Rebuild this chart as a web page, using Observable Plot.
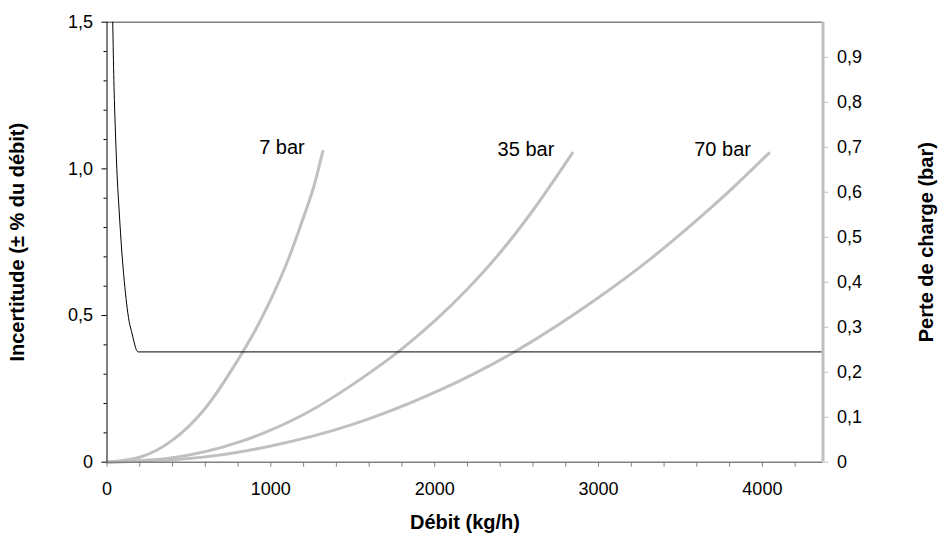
<!DOCTYPE html>
<html><head><meta charset="utf-8">
<script src="https://cdn.jsdelivr.net/npm/d3@7"></script>
<script src="https://cdn.jsdelivr.net/npm/@observablehq/plot@0.6"></script>
<style>body{margin:0;background:#fff}svg{display:block}</style>
</head><body><div id="chart"></div>
<script>
// Uncertainty curve (left axis, ± % of flow)
const flowUnc = [35, 42, 50, 60, 75, 90, 105, 120, 135, 150, 165, 178, 190, 4370];
const uncValues = [1.5, 1.3, 1.15, 1.0, 0.85, 0.72, 0.62, 0.54, 0.48, 0.445, 0.41, 0.385, 0.376, 0.376];

// Pressure-drop curves (right axis, bar)
const seriesNames = ["7 bar", "35 bar", "70 bar"];
const flow7 = [0, 200, 400, 600, 800, 900, 1000, 1100, 1200, 1260, 1317];
const dp7 = [0, 0.011, 0.049, 0.12, 0.228, 0.29, 0.362, 0.445, 0.545, 0.61, 0.691];
const flow35 = [0, 400, 800, 1200, 1600, 1800, 2000, 2200, 2400, 2600, 2840];
const dp35 = [0, 0.01, 0.044, 0.106, 0.198, 0.252, 0.314, 0.385, 0.466, 0.56, 0.687];
const flow70 = [0, 500, 1000, 1500, 2000, 2500, 3000, 3300, 3600, 3800, 4040];
const dp70 = [0, 0.008, 0.036, 0.084, 0.155, 0.248, 0.366, 0.447, 0.538, 0.603, 0.687];

// Axes
const xMax = 4370;
const xMajorTicks = [0, 1000, 2000, 3000, 4000];
const xMinorTicks = [200, 400, 600, 800, 1200, 1400, 1600, 1800, 2200, 2400, 2600, 2800, 3200, 3400, 3600, 3800, 4200];
const yLeftMax = 1.5;
const yLeftTicks = [0, 0.5, 1.0, 1.5];
const yLeftMinor = [0.1, 0.2, 0.3, 0.4, 0.6, 0.7, 0.8, 0.9, 1.1, 1.2, 1.3, 1.4];
const yRightMax = 0.978;
const yRightTicks = [0, 0.1, 0.2, 0.3, 0.4, 0.5, 0.6, 0.7, 0.8, 0.9];

const titleX = "Débit (kg/h)";
const titleYLeft = "Incertitude (± % du débit)";
const titleYRight = "Perte de charge (bar)";

const k = yLeftMax / yRightMax; // right-axis value -> left-axis scale
const fmt = v => v === 0 ? "0" : v.toFixed(1).replace(".", ",");

const dpRows = [];
[[flow7, dp7], [flow35, dp35], [flow70, dp70]].forEach(([f, p], i) => {
  f.forEach((x, j) => dpRows.push({series: seriesNames[i], flow: x, y: p[j] * k}));
});
const endRows = seriesNames.map(s => {
  const r = dpRows.filter(d => d.series === s);
  return r[r.length - 1];
});
const uncRows = flowUnc.map((x, i) => ({flow: x, y: uncValues[i]}));

const chart = Plot.plot({
  width: 938,
  height: 534,
  marginLeft: 106.5,
  marginRight: 115.5,
  marginTop: 21.7,
  marginBottom: 72.3,
  style: {fontFamily: "'Liberation Sans', Arial, sans-serif", fontSize: "18px", color: "#000", background: "#fff"},
  x: {domain: [0, xMax], axis: null},
  y: {domain: [0, yLeftMax], axis: null},
  marks: [
    Plot.ruleY([yLeftMax], {stroke: "#808080", strokeWidth: 1.5}),
    Plot.line(dpRows, {x: "flow", y: "y", z: "series", stroke: "#c0c0c0", strokeWidth: 3, curve: "monotone-x"}),
    Plot.line(uncRows, {x: "flow", y: "y", stroke: "#000", strokeWidth: 1, curve: "monotone-x"}),
    Plot.text(endRows, {x: "flow", y: "y", text: "series", textAnchor: "end", dx: -18, dy: -4, fontSize: 20, fill: "#000"}),
    Plot.ruleY([0], {stroke: "#808080", strokeWidth: 1.5}),
    Plot.ruleX([0], {stroke: "#000", strokeWidth: 1}),
    Plot.ruleX([xMax], {stroke: "#c0c0c0", strokeWidth: 3}),
    // x axis
    Plot.axisX({ticks: xMajorTicks.concat(xMinorTicks), tickSize: 5, tickFormat: () => "", stroke: "#808080", label: null}),
    Plot.axisX({ticks: xMajorTicks, tickSize: 0, tickPadding: 20, tickFormat: d => String(d), fill: "#000", label: null}),
    // left y axis
    Plot.axisY({ticks: yLeftTicks, tickSize: 5, tickFormat: () => "", stroke: "#000", label: null}),
    Plot.axisY({ticks: yLeftMinor, tickSize: 3, tickFormat: () => "", stroke: "#000", label: null}),
    Plot.axisY({ticks: yLeftTicks, tickSize: 0, tickPadding: 14, tickFormat: fmt, fill: "#000", label: null}),
    // right y axis
    Plot.axisY({anchor: "right", ticks: yRightTicks.map(v => v * k), tickSize: 5, tickFormat: () => "", stroke: "#c0c0c0", label: null}),
    Plot.axisY({anchor: "right", ticks: yRightTicks.map(v => v * k), tickSize: 0, tickPadding: 14, tickFormat: d => fmt(Math.round(d / k * 10) / 10), fill: "#000", label: null}),
    // titles
    Plot.text([titleX], {frameAnchor: "bottom", dy: 67, text: d => d, textAnchor: "middle", lineAnchor: "bottom", fontWeight: "bold", fontSize: 20, fill: "#000"}),
    Plot.text([titleYLeft], {frameAnchor: "left", dx: -89, rotate: -90, text: d => d, textAnchor: "middle", lineAnchor: "middle", fontWeight: "bold", fontSize: 20, fill: "#000"}),
    Plot.text([titleYRight], {frameAnchor: "right", dx: 104, rotate: -90, text: d => d, textAnchor: "middle", lineAnchor: "middle", fontWeight: "bold", fontSize: 20, fill: "#000"})
  ]
});
document.getElementById("chart").appendChild(chart);
</script>
</body></html>
